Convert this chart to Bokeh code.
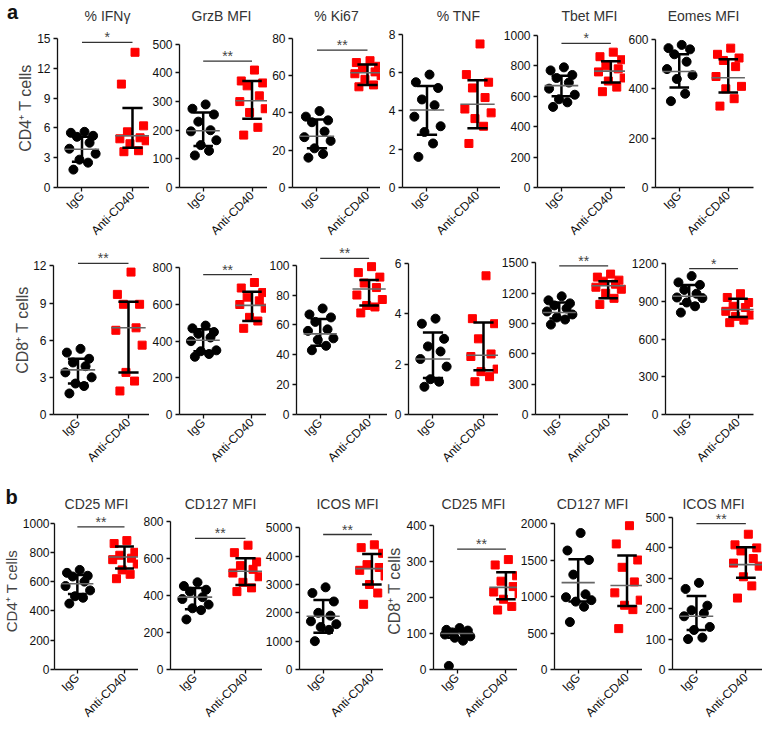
import math
from bokeh.plotting import figure
from bokeh.layouts import row, column
from bokeh.models import Range1d, FixedTicker, Title
from bokeh.embed import file_html
from bokeh.resources import INLINE
from bokeh.core.properties import value

CATEGORIES = ["IgG", "Anti-CD40"]
# fixed horizontal spread pattern of the dots (category units), points listed high -> low
JITTER = [0.05, -0.22, 0.22, -0.1, 0.15, -0.25, 0.27, -0.05, 0.12, -0.17]

# ---------- a: CD4+ T cells ----------
IFNG_CD4_IGG = [5.6, 5.5, 5.2, 5.1, 4.5, 3.9, 3.4, 2.8, 2.5, 1.8]
IFNG_CD4_ANTI = [13.6, 10.4, 6.2, 5.6, 5.0, 4.9, 4.7, 4.4, 3.7, 3.6]
GRZB_CD4_IGG = [290, 275, 255, 230, 200, 196, 165, 148, 128, 112]
GRZB_CD4_ANTI = [410, 372, 365, 355, 320, 300, 275, 262, 210, 183]
KI67_CD4_IGG = [41, 38, 36, 35, 30, 27, 25, 21, 18, 16]
KI67_CD4_ANTI = [68, 67, 65, 64, 62, 61, 60, 58, 55, 54]
TNF_CD4_IGG = [5.9, 5.5, 5.2, 4.6, 4.3, 3.7, 3.2, 2.9, 2.3, 1.6]
TNF_CD4_ANTI = [7.5, 5.9, 5.5, 5.2, 4.7, 4.1, 3.9, 3.6, 3.2, 2.3]
TBET_CD4_IGG = [790, 770, 740, 720, 690, 650, 610, 580, 560, 530]
TBET_CD4_ANTI = [890, 860, 840, 800, 780, 760, 720, 700, 660, 630]
EOMES_CD4_IGG = [578, 565, 560, 540, 510, 480, 455, 440, 380, 350]
EOMES_CD4_ANTI = [565, 540, 525, 515, 490, 450, 410, 400, 360, 330]

# ---------- a: CD8+ T cells ----------
IFNG_CD8_IGG = [5.3, 5.0, 4.5, 4.2, 3.9, 3.4, 3.0, 2.5, 2.3, 1.7]
IFNG_CD8_ANTI = [11.5, 9.7, 8.9, 8.9, 7.0, 6.8, 5.6, 3.4, 2.7, 1.9]
GRZB_CD8_IGG = [485, 470, 450, 440, 420, 400, 350, 345, 330, 315]
GRZB_CD8_ANTI = [720, 690, 665, 640, 620, 600, 580, 530, 510, 470]
KI67_CD8_IGG = [71, 67, 65, 62, 57, 56, 51, 50, 46, 43]
KI67_CD8_ANTI = [99, 95, 92, 88, 85, 80, 77, 73, 72, 68]
TNF_CD8_IGG = [3.8, 3.6, 3.0, 2.7, 2.5, 2.2, 1.9, 1.4, 1.3, 1.1]
TNF_CD8_ANTI = [5.5, 3.8, 3.6, 3.0, 2.4, 2.3, 1.8, 1.7, 1.5, 1.3]
TBET_CD8_IGG = [1170, 1130, 1100, 1080, 1050, 1020, 990, 960, 940, 890]
TBET_CD8_ANTI = [1390, 1360, 1330, 1320, 1290, 1260, 1240, 1200, 1150, 1090]
EOMES_CD8_IGG = [1100, 1050, 1030, 990, 960, 930, 925, 890, 860, 810]
EOMES_CD8_ANTI = [960, 930, 890, 860, 850, 820, 790, 780, 750, 730]

# ---------- b ----------
CD25_CD4_IGG = [680, 660, 640, 635, 600, 570, 540, 500, 490, 450]
CD25_CD4_ANTI = [880, 860, 800, 780, 760, 750, 720, 680, 650, 620]
CD127_CD4_IGG = [470, 450, 430, 420, 390, 380, 350, 330, 320, 270]
CD127_CD4_ANTI = [670, 630, 580, 560, 540, 520, 500, 470, 440, 420]
ICOS_CD4_IGG = [2900, 2700, 2400, 2000, 1900, 1700, 1600, 1500, 1400, 1000]
ICOS_CD4_ANTI = [4400, 4300, 4100, 3700, 3600, 3500, 3300, 3000, 2700, 2300]
CD25_CD8_IGG = [115, 110, 108, 103, 100, 97, 92, 88, 80, 10]
CD25_CD8_ANTI = [305, 290, 260, 245, 230, 215, 210, 195, 175, 165]
CD127_CD8_IGG = [1870, 1630, 1500, 1300, 1030, 990, 950, 930, 860, 650]
CD127_CD8_ANTI = [1970, 1720, 1500, 1400, 1200, 1050, 950, 880, 820, 560]
ICOS_CD8_IGG = [285, 265, 210, 195, 185, 175, 140, 130, 105, 100]
ICOS_CD8_ANTI = [445, 410, 400, 390, 365, 350, 340, 305, 275, 235]

# summary lines: (median, lower, upper)
STATS = {
    "IFNG_CD4": [(3.85, 2.6, 5.1), (5.2, 4.0, 8.0)],
    "GRZB_CD4": [(198, 145, 262), (303, 240, 372)],
    "KI67_CD4": [(27.5, 21, 36.5), (61.5, 55, 66)],
    "TNF_CD4": [(4.05, 2.75, 5.3), (4.35, 3.1, 5.6)],
    "TBET_CD4": [(670, 600, 735), (765, 690, 830)],
    "EOMES_CD4": [(470, 405, 540), (445, 385, 520)],
    "IFNG_CD8": [(3.6, 2.5, 4.5), (7.0, 3.4, 9.1)],
    "GRZB_CD8": [(405, 345, 465), (595, 510, 670)],
    "KI67_CD8": [(54, 46, 64), (84, 73, 90)],
    "TNF_CD8": [(2.2, 1.45, 3.25), (2.35, 1.75, 3.65)],
    "TBET_CD8": [(1010, 950, 1110), (1275, 1150, 1320)],
    "EOMES_CD8": [(940, 880, 1030), (835, 775, 920)],
    "CD25_CD4": [(585, 515, 645), (768, 690, 840)],
    "CD127_CD4": [(390, 325, 440), (530, 455, 600)],
    "ICOS_CD4": [(1880, 1300, 2450), (3560, 3000, 4080)],
    "CD25_CD8": [(100, 88, 108), (228, 195, 270)],
    "CD127_CD8": [(1190, 930, 1510), (1150, 870, 1560)],
    "ICOS_CD8": [(175, 130, 242), (345, 302, 402)],
}

TITLES_A = ["% IFNγ", "GrzB MFI", "% Ki67", "% TNF", "Tbet MFI", "Eomes MFI"]
TITLES_B = ["CD25 MFI", "CD127 MFI", "ICOS MFI", "CD25 MFI", "CD127 MFI", "ICOS MFI"]
ROW_LABELS = ["CD4⁺ T cells", "CD8⁺ T cells"]

ROW1 = [
    ([0, 3, 6, 9, 12, 15], IFNG_CD4_IGG, IFNG_CD4_ANTI, "IFNG_CD4", (14.6, "*")),
    ([0, 100, 200, 300, 400, 500], GRZB_CD4_IGG, GRZB_CD4_ANTI, "GRZB_CD4", (441, "**")),
    ([0, 20, 40, 60, 80], KI67_CD4_IGG, KI67_CD4_ANTI, "KI67_CD4", (73.7, "**")),
    ([0, 2, 4, 6, 8], TNF_CD4_IGG, TNF_CD4_ANTI, "TNF_CD4", None),
    ([0, 200, 400, 600, 800, 1000], TBET_CD4_IGG, TBET_CD4_ANTI, "TBET_CD4", (948, "*")),
    ([0, 200, 400, 600], EOMES_CD4_IGG, EOMES_CD4_ANTI, "EOMES_CD4", None),
]
ROW2 = [
    ([0, 3, 6, 9, 12], IFNG_CD8_IGG, IFNG_CD8_ANTI, "IFNG_CD8", (12.2, "**")),
    ([0, 200, 400, 600, 800], GRZB_CD8_IGG, GRZB_CD8_ANTI, "GRZB_CD8", (763, "**")),
    ([0, 20, 40, 60, 80, 100], KI67_CD8_IGG, KI67_CD8_ANTI, "KI67_CD8", (104.6, "**")),
    ([0, 2, 4, 6], TNF_CD8_IGG, TNF_CD8_ANTI, "TNF_CD8", None),
    ([0, 300, 600, 900, 1200, 1500], TBET_CD8_IGG, TBET_CD8_ANTI, "TBET_CD8", (1471, "**")),
    ([0, 300, 600, 900, 1200], EOMES_CD8_IGG, EOMES_CD8_ANTI, "EOMES_CD8", (1160, "*")),
]
ROW3 = [
    ([0, 200, 400, 600, 800, 1000], CD25_CD4_IGG, CD25_CD4_ANTI, "CD25_CD4", (974, "**")),
    ([0, 200, 400, 600, 800], CD127_CD4_IGG, CD127_CD4_ANTI, "CD127_CD4", (707, "**")),
    ([0, 1000, 2000, 3000, 4000, 5000], ICOS_CD4_IGG, ICOS_CD4_ANTI, "ICOS_CD4", (4764, "**")),
    ([0, 100, 200, 300, 400], CD25_CD8_IGG, CD25_CD8_ANTI, "CD25_CD8", (334, "**")),
    ([0, 500, 1000, 1500, 2000], CD127_CD8_IGG, CD127_CD8_ANTI, "CD127_CD8", None),
    ([0, 100, 200, 300, 400, 500], ICOS_CD8_IGG, ICOS_CD8_ANTI, "ICOS_CD8", (480, "**")),
]

# ---------- layout geometry (window pixels; the page has no margin) ----------
GEOM1 = dict(y0=28, y1=245, S=[0, 149, 267, 380, 500, 625], E=[149, 267, 380, 500, 625, 762],
             L=[57, 176, 292, 402, 535, 652], R=[149, 267, 380, 500, 625, 753],
             FB=[189, 189, 190, 190, 189, 187], PT=[38, 44, 38, 34, 35, 39])
GEOM2 = dict(y0=245, y1=484, S=[0, 149, 266, 387, 498, 628], E=[149, 266, 387, 498, 628, 762],
             L=[53, 176, 293, 408, 532, 662], R=[149, 266, 387, 498, 628, 753],
             FB=[419, 419, 417, 417, 419, 414], PT=[266, 268, 265, 263, 263, 263])
GEOM3 = dict(y0=512, y1=735, S=[0, 138, 262, 383, 517, 642], E=[138, 262, 383, 517, 642, 762],
             L=[48, 170, 296, 430, 551, 670], R=[138, 262, 383, 517, 642, 762],
             FB=[676, 676, 676, 671, 669, 669], PT=[523, 521, 528, 525, 523, 517])
HEAD1 = dict(y0=0, y1=28, TX=[107, 221, 336, 458, 589, 703], TY=15, letter=("a", 12, 11))
HEAD3 = dict(y0=484, y1=512, TX=[96, 220, 347, 473, 592, 713], TY=503, letter=("b", 11, 496))

PPU = 50.5   # pixels per category step
X0 = 0.515
FONT = "Liberation Sans"
WIDTH = 762


def make_panel(spec, i, g):
    ticks, igg, anti, key, sig = spec
    s0, s1 = g["S"][i], g["E"][i]
    L, R, FB, PT = g["L"][i], g["R"][i], g["FB"][i], g["PT"][i]
    FT = g["y0"]
    top = ticks[-1]
    y_end = top * (FB - FT) / (FB - PT)
    x1 = X0 + (R - L) / PPU
    p = figure(width=s1 - s0, height=g["y1"] - g["y0"], x_range=Range1d(X0, x1),
               y_range=Range1d(0, y_end), output_backend="svg", toolbar_location=None)
    p.min_border = 0
    p.min_border_left = L - s0
    p.min_border_right = s1 - R
    p.min_border_top = 0
    p.min_border_bottom = g["y1"] - FB
    p.outline_line_color = None
    p.grid.visible = False
    p.yaxis.ticker = FixedTicker(ticks=ticks)
    p.yaxis.bounds = (0, top)
    p.xaxis.ticker = FixedTicker(ticks=[1, 2])
    p.xaxis.major_label_overrides = {1: CATEGORIES[0], 2: CATEGORIES[1]}
    p.xaxis.major_label_orientation = math.pi / 4
    for ax in (p.xaxis, p.yaxis):
        ax.axis_line_color = "#111111"
        ax.axis_line_width = 1.3
        ax.major_tick_line_color = "#111111"
        ax.major_tick_line_width = 1.3
        ax.major_tick_out = 4
        ax.major_tick_in = 0
        ax.minor_tick_line_color = None
        ax.major_label_text_font = FONT
        ax.major_label_text_color = "#111111"
    p.yaxis.major_label_text_font_size = "12px"
    p.yaxis.major_label_standoff = 3
    p.xaxis.major_label_text_font_size = "12px"
    p.xaxis.major_label_standoff = 2

    p.scatter([1 + JITTER[k] for k in range(len(igg))], igg, marker="circle", size=9,
              fill_color="black", line_color="black")
    p.scatter([2 + JITTER[k] for k in range(len(anti))], anti, marker="square", size=8,
              fill_color="#ff0000", line_color="#ff0000")
    for c, (med, lo, hi) in zip((1, 2), STATS[key]):
        p.segment(x0=[c], y0=[lo], x1=[c], y1=[hi], line_color="black", line_width=2.5)
        p.segment(x0=[c - 0.2, c - 0.2], y0=[lo, hi], x1=[c + 0.2, c + 0.2], y1=[lo, hi],
                  line_color="black", line_width=2.5)
        p.segment(x0=[c - 0.34], y0=[med], x1=[c + 0.34], y1=[med], line_color="#666666",
                  line_width=1.6)
    if sig:
        ys, stars = sig
        p.segment(x0=[1], y0=[ys], x1=[2], y1=[ys], line_color="#333333", line_width=1.3)
        p.text(x=[1.5], y=[ys], text=[stars], text_align="center", text_baseline="middle",
               y_offset=-5, text_font=value(FONT), text_font_size="14px", text_color="#444444")
    return p


def add_row_label(p, text, size, standoff, offset):
    p.add_layout(Title(text=text, align="center", offset=offset, standoff=standoff,
                       text_font=FONT, text_font_size=size, text_font_style="normal",
                       text_color="#444444"), "left")


def header(h, titles):
    p = figure(width=WIDTH, height=h["y1"] - h["y0"], x_range=Range1d(0, WIDTH),
               y_range=Range1d(-h["y1"], -h["y0"]), output_backend="svg",
               toolbar_location=None, x_axis_location=None, y_axis_location=None)
    p.min_border = 0
    p.outline_line_color = None
    p.grid.visible = False
    p.text(x=h["TX"], y=[-h["TY"]] * len(titles), text=titles, text_align="center",
           text_baseline="middle", text_font=value(FONT), text_font_size="14px",
           text_color="#333333")
    letter, lx, ly = h["letter"]
    p.text(x=[lx], y=[-ly], text=[letter], text_align="center", text_baseline="middle",
           text_font=value(FONT), text_font_size="20px", text_font_style="bold",
           text_color="#111111")
    return p


r1 = [make_panel(s, i, GEOM1) for i, s in enumerate(ROW1)]
r2 = [make_panel(s, i, GEOM2) for i, s in enumerate(ROW2)]
r3 = [make_panel(s, i, GEOM3) for i, s in enumerate(ROW3)]
r3[0].yaxis.major_label_standoff = 1

add_row_label(r1[0], ROW_LABELS[0], "16px", 2, -3)
add_row_label(r2[0], ROW_LABELS[1], "16px", 0, -17)
add_row_label(r3[0], ROW_LABELS[0], "15px", 0, -3)
add_row_label(r3[3], ROW_LABELS[1], "16px", 1, -5)

layout = column(header(HEAD1, TITLES_A), row(*r1, spacing=0), row(*r2, spacing=0),
                header(HEAD3, TITLES_B), row(*r3, spacing=0), spacing=0)
open("out.html", "w").write(file_html(layout, INLINE))
